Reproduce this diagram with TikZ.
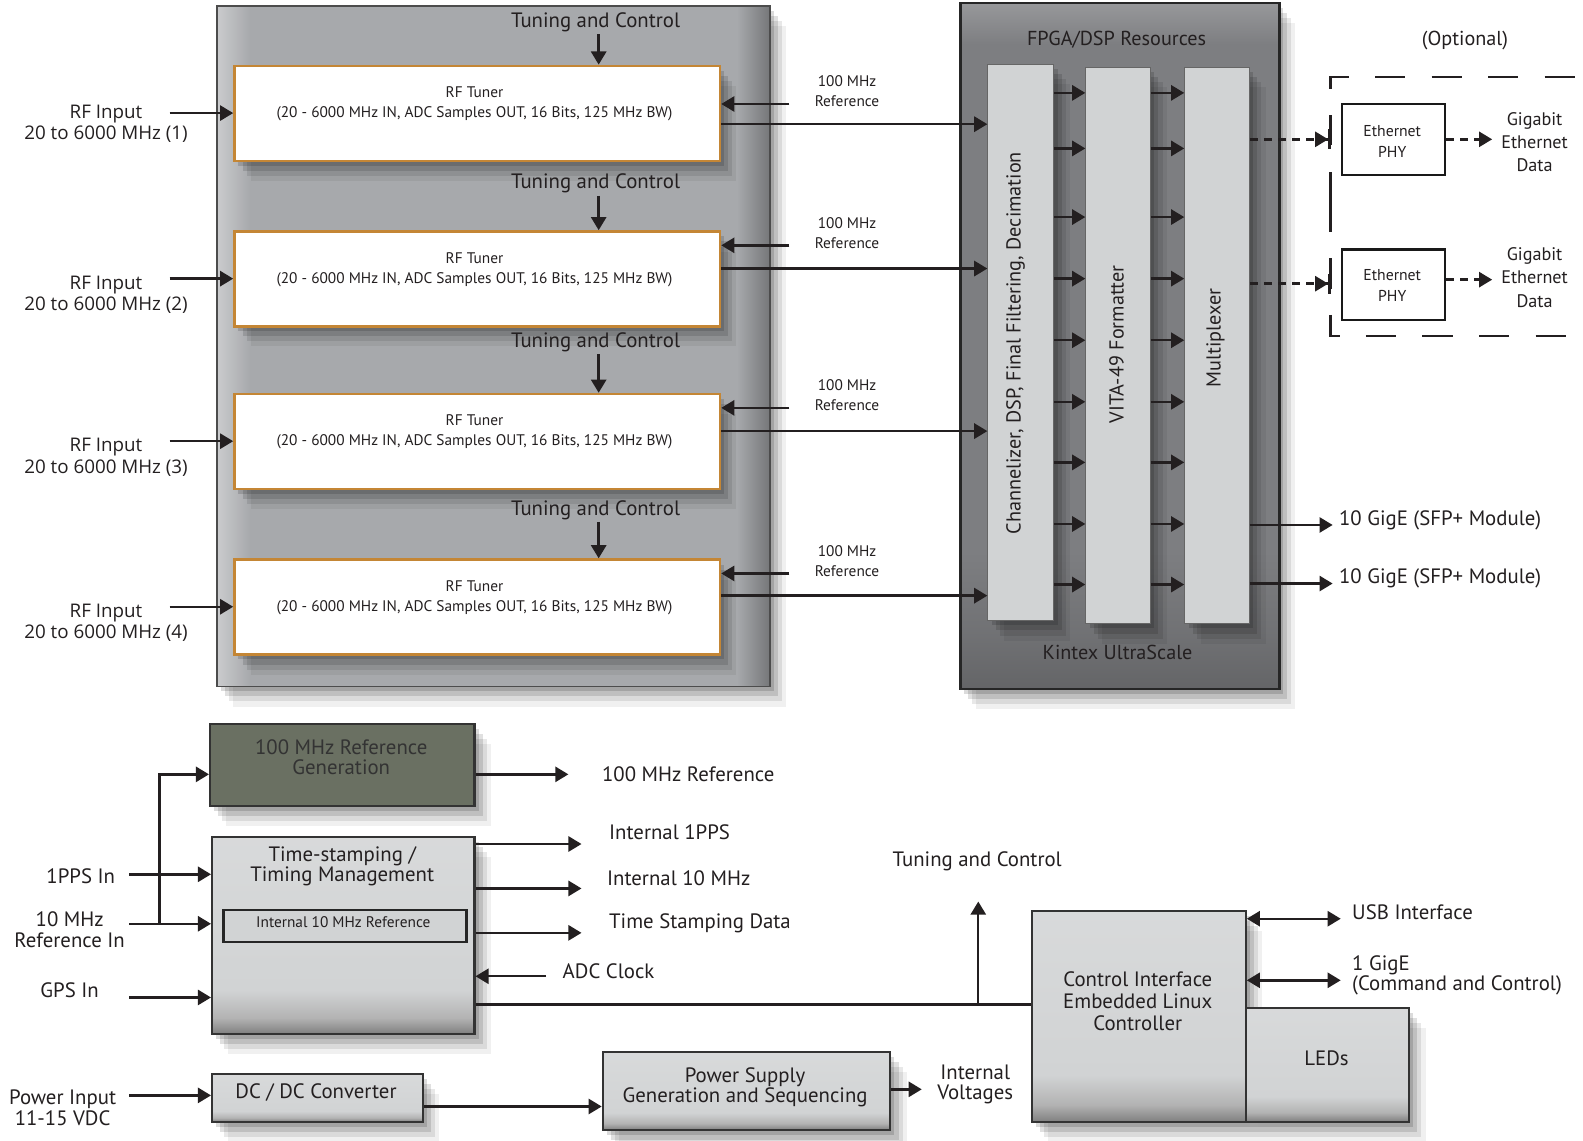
\documentclass[tikz,border=0pt]{standalone}
\usepackage{fontspec}
\setmainfont{PT Sans}
\newfontfamily\rffont{Open Sans}
\usetikzlibrary{arrows.meta,shadows,calc}
\definecolor{panelgray}{RGB}{167,169,172}
\definecolor{fpgagray}{RGB}{125,126,129}
\definecolor{colgray}{RGB}{209,211,212}
\definecolor{tunerorange}{RGB}{196,134,53}
\definecolor{olivegray}{RGB}{106,112,98}
\definecolor{txt}{RGB}{35,31,32}
\pgfdeclareverticalshading{boxshade}{100bp}{color(0bp)=(black!50); color(25bp)=(black!50); color(29bp)=(black!30); color(36bp)=(colgray); color(75bp)=(colgray!85!white); color(100bp)=(colgray!85!white)}
\pgfdeclarehorizontalshading{panelshade}{100bp}{color(0bp)=(panelgray!60!white); color(25bp)=(panelgray!60!white); color(28bp)=(panelgray); color(72bp)=(panelgray); color(75bp)=(panelgray!70!black); color(100bp)=(panelgray!70!black)}
\pgfdeclareverticalshading{fpgashade}{100bp}{color(0bp)=(fpgagray!80!black); color(25bp)=(fpgagray!80!black); color(29bp)=(fpgagray!90!black); color(35bp)=(fpgagray); color(72bp)=(fpgagray); color(75bp)=(fpgagray!80!white); color(100bp)=(fpgagray!80!white)}
\newcommand\bx[7]{\node[#6, anchor=north west, inner sep=0pt, minimum width={(#4-#2)*0.5pt}, minimum height={(#5-#3)*0.5pt}] (#1) at (#2,#3) {#7};}
\tikzset{
  shd/.style={
    drop shadow={shadow xshift=2pt, shadow yshift=-2.5pt, opacity=0.14, fill=black},
    drop shadow={shadow xshift=4pt, shadow yshift=-5pt, opacity=0.12, fill=black},
    drop shadow={shadow xshift=6pt, shadow yshift=-7.5pt, opacity=0.09, fill=black},
    drop shadow={shadow xshift=8pt, shadow yshift=-10pt, opacity=0.06, fill=black}},
  panel/.style={shading=panelshade, draw=black!70, line width=0.8pt, shd},
  fpga/.style={shading=fpgashade, draw=black!85, line width=1.2pt, shd},
  column/.style={fill=colgray, draw=black!60, line width=0.5pt, shd},
  tuner/.style={fill=white, draw=tunerorange, line width=1.2pt, shd},
  graybox/.style={shading=boxshade, draw=black!80, line width=1pt, shd},
  refbox/.style={fill=olivegray, draw=black!80, line width=1pt, shd},
  phybox/.style={fill=white, draw=black!90, line width=1.2pt},
  innerbox/.style={fill=colgray, draw=black!85, line width=1.2pt},
  lbl/.style={font=\fontsize{10.3}{10.2}\selectfont, align=center, inner sep=1pt, text=txt},
  lbll/.style={font=\fontsize{10.3}{10.2}\selectfont, align=left, inner sep=1pt, text=txt, anchor=west},
  sml/.style={font=\fontsize{7.6}{10}\selectfont, align=center, inner sep=1pt, text=txt},
  rfl/.style={font=\rffont\fontsize{9.3}{10.5}\selectfont, align=center, inner sep=1pt, text=txt},
  arr/.style={line width=1.2pt, draw=txt, -{Triangle[length=6.5pt,width=7.5pt]}},
  darr/.style={line width=1.2pt, draw=txt, {Triangle[length=6.5pt,width=7.5pt]}-{Triangle[length=6.5pt,width=7.5pt]}},
  ln/.style={line width=1.2pt, draw=txt},
  dasharr/.style={line width=1.2pt, draw=txt, dash pattern=on 4pt off 3pt, -{Triangle[length=6.5pt,width=7.5pt]Bar[width=10pt,line width=1.2pt]}},
  dasharrb/.style={line width=1.2pt, draw=txt, dash pattern=on 4pt off 3pt, -{Triangle[length=6.5pt,width=7.5pt]}},
}
\begin{document}
\begin{tikzpicture}[x=0.5pt,y=-0.5pt]
\useasboundingbox (0,0) rectangle (1568,1130);
\fill[white] (0,0) rectangle (1568,1130);

% ---------- RF tuner panel ----------
\bx{lp}{214}{5}{762}{679}{panel}{}
\foreach \k/\pa/\pb/\pc/\pd/\pe/\pf/\pg/\ph in
  {1/64/158/103/112/123/22/90/103,
   2/228/322/267/276/292/182/231/243,
   3/389/483/428/437/453/339/391/404,
   4/553/647/592/601/617/505/556/568}{
  \bx{t\k}{231}{\pa}{712}{\pb}{tuner}{}
  \node[sml] (tt\k) at (470,\pc) {RF Tuner\\(20 - 6000 MHz IN, ADC Samples OUT, 16 Bits, 125 MHz BW)};
  \node[rfl] (rf\k) at (105,\pe) {RF Input\\20 to 6000 MHz (\k)};
  \coordinate (rfa\k) at (168,\pd);
  \draw[arr] (rfa\k) -- (rfa\k -| t\k.west);
  \node[lbl] (tc\k) at (590,\pf) {Tuning and Control};
  \draw[arr] ([xshift=1.5pt]tc\k.south) -- ([xshift=1.5pt]tc\k.south |- t\k.north);
  \node[sml] (rl\k) at (839,\pg) {100 MHz\\Reference};
  \coordinate (ra\k) at (782,\ph);
  \draw[arr] (ra\k) -- (ra\k -| t\k.east);
}

% ---------- FPGA panel ----------
\bx{fp}{950}{2}{1266}{681}{fpga}{}
\node[lbl, font=\fontsize{10}{12}\selectfont] (fpt) at (1106,39) {FPGA/DSP Resources};
\node[lbl, font=\fontsize{10}{12}\selectfont] (kin) at (1107,646) {Kintex UltraScale};
\bx{ch}{978}{63}{1043}{614}{column}{}
\bx{vt}{1075}{66}{1139}{617}{column}{}
\bx{mx}{1173}{66}{1237}{617}{column}{}
\node[lbl, rotate=90, font=\fontsize{10}{12}\selectfont] (cht) at (1006,340) {Channelizer, DSP, Final Filtering, Decimation};
\node[lbl, rotate=90, font=\fontsize{10}{12}\selectfont] (vtt) at (1106,341) {VITA-49 Formatter};
\node[lbl, rotate=90, font=\fontsize{10}{12}\selectfont] (mxt) at (1204,335) {Multiplexer};

\foreach \k/\yy in {1/123,2/266,3/427,4/590}{
  \coordinate (o\k) at (900,\yy);
  \draw[arr] (o\k -| t\k.east) -- (o\k -| ch.west);
}
\foreach \yy in {92,147,215,276,337,398,458,519,579}{
  \coordinate (cc) at (1100,\yy);
  \draw[arr] (cc -| ch.east) -- (cc -| vt.west);
  \draw[arr] (cc -| vt.east) -- (cc -| mx.west);
}

% ---------- Optional Ethernet ----------
\node[lbl, font=\fontsize{10}{12}\selectfont] (opt) at (1451,40) {(Optional)};
\draw[line width=1.2pt, draw=txt, dash pattern=on 15pt off 13pt] (1318,200) -- (1318,76) -- (1568,76);
\draw[line width=1.2pt, draw=txt, dash pattern=on 15pt off 13pt] (1318,200) -- (1318,333) -- (1568,333);
\bx{p1}{1328}{102}{1430}{172}{phybox}{}
\bx{p2}{1328}{246}{1430}{316}{phybox}{}
\node[sml, font=\fontsize{7.8}{10.5}\selectfont] (p1t) at (1379,140) {Ethernet\\PHY};
\node[sml, font=\fontsize{7.8}{10.5}\selectfont] (p2t) at (1379,283) {Ethernet\\PHY};
\node[lbl, font=\fontsize{9}{11.4}\selectfont] (g1) at (1520,141) {Gigabit\\Ethernet\\Data};
\node[lbl, font=\fontsize{9}{11.4}\selectfont] (g2) at (1520,275) {Gigabit\\Ethernet\\Data};
\coordinate (e1) at (1318,138);
\coordinate (e2) at (1318,281);
\draw[dasharr] (e1 -| mx.east) -- (e1);
\draw[dasharr] (e2 -| mx.east) -- (e2);
\coordinate (ga1) at (1478,138);
\coordinate (ga2) at (1478,277);
\draw[dasharrb] (ga1 -| p1.east) -- (ga1);
\draw[dasharrb] (ga2 -| p2.east) -- (ga2);

% 10 GigE
\coordinate (x1) at (1320,520);
\coordinate (x2) at (1320,578);
\draw[arr] (x1 -| mx.east) -- (x1);
\draw[arr] (x2 -| mx.east) -- (x2);
\node[lbll] (x1t) at (1324,515) {10 GigE (SFP+ Module)};
\node[lbll] (x2t) at (1324,573) {10 GigE (SFP+ Module)};

% ---------- Bottom section ----------
\bx{rg}{207}{716}{469}{797}{refbox}{}
\node[lbl, text=black!80] (rgt) at (338,750) {100 MHz Reference\\Generation};
\coordinate (rgo) at (563,767);
\draw[arr] (rgo -| rg.east) -- (rgo);
\node[lbll] (rgl) at (594,767) {100 MHz Reference};

\bx{ts}{209}{828}{469}{1023}{graybox}{}
\node[lbl] (tst) at (339,858) {Time-stamping /\\Timing Management};
\bx{i10}{220}{900}{461}{932}{innerbox}{}
\node[sml] (i10t) at (340,913) {Internal 10 MHz Reference};

\coordinate (q1) at (576,836);
\coordinate (q2) at (576,880);
\coordinate (q3) at (576,924);
\draw[arr] (q1 -| ts.east) -- (q1);
\draw[arr] (q2 -| ts.east) -- (q2);
\draw[arr] (q3 -| ts.east) -- (q3);
\node[lbll] (q1t) at (601,824) {Internal 1PPS};
\node[lbll] (q2t) at (599,870) {Internal 10 MHz};
\node[lbll] (q3t) at (601,915) {Time Stamping Data};
\coordinate (adc) at (541,967);
\draw[arr] (adc) -- (adc -| ts.east);
\node[lbll] (adct) at (555,962) {ADC Clock};

% inputs
\node[lbl] (pps) at (80,868) {1PPS In};
\coordinate (ppsa) at (128,866);
\draw[arr] (ppsa) -- (ppsa -| ts.west);
\node[lbl] (tmr) at (69,921) {10 MHz\\Reference In};
\coordinate (tmra) at (128,915);
\draw[arr] (tmra) -- (tmra -| ts.west);
\coordinate (jn) at (158,915);
\draw[arr] (jn) -- (jn |- rgo) -- (rgo -| rg.west);
\node[lbl] (gps) at (69,981) {GPS In};
\coordinate (gpsa) at (128,988);
\draw[arr] (gpsa) -- (gpsa -| ts.west);

% power
\node[lbl] (pin) at (62,1097) {Power Input\\11-15 VDC};
\bx{dc}{209}{1063}{418}{1110}{graybox}{}
\node[lbl] (dct) at (313,1082) {DC / DC Converter};
\coordinate (pina) at (128,1085);
\draw[arr] (pina) -- (pina -| dc.west);
\bx{ps}{596}{1041}{881}{1118}{graybox}{}
\node[lbl] (pst) at (738,1077) {Power Supply\\Generation and Sequencing};
\coordinate (dcp) at (500,1096);
\draw[arr] (dcp -| dc.east) -- (dcp -| ps.west);
\coordinate (iv) at (913,1079);
\draw[arr] (iv -| ps.east) -- (iv);
\node[lbl] (ivt) at (966,1074) {Internal\\Voltages};

% control
\bx{ci}{1021}{901}{1233}{1110}{graybox}{}
\node[lbl, font=\fontsize{10.3}{11}\selectfont] (cit) at (1127,992) {Control Interface\\Embedded Linux\\Controller};
\bx{led}{1233}{997}{1395}{1110}{graybox}{}
\node[lbl] (ledt) at (1314,1048) {LEDs};
\coordinate (bus) at (969,995);
\draw[ln] (bus -| ts.east) -- (bus -| ci.west);
\coordinate (tcu) at (969,893);
\draw[arr] (bus) -- (tcu);
\node[lbl] (tcb) at (968,853) {Tuning and Control};
\coordinate (usb) at (1328,910);
\coordinate (gig) at (1328,971);
\draw[darr] (usb -| ci.east) -- (usb);
\draw[darr] (gig -| ci.east) -- (gig);
\node[lbll] (usbt) at (1337,904) {USB Interface};
\node[lbll] (gigt) at (1337,966) {1 GigE\\(Command and Control)};
\end{tikzpicture}
\end{document}
